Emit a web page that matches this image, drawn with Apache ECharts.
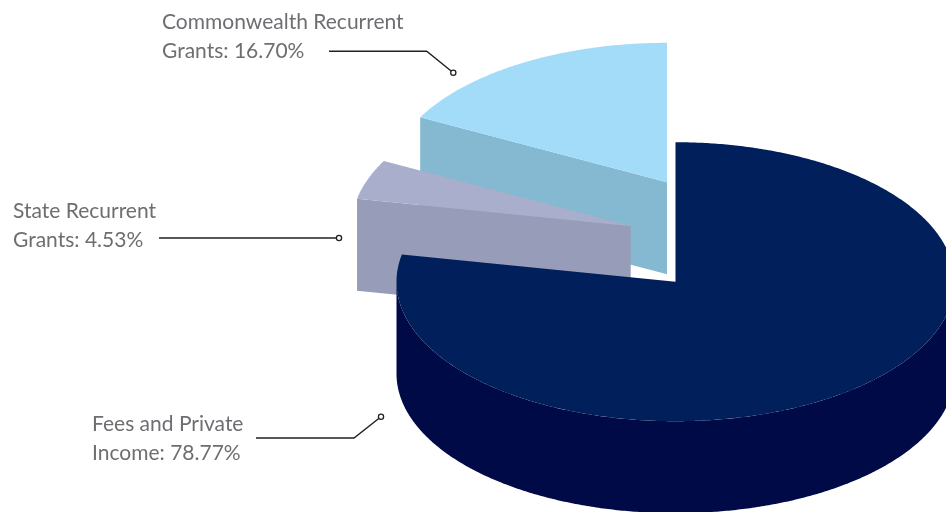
<!DOCTYPE html>
<html>
<head>
<meta charset="utf-8">
<style>
  html, body { margin: 0; background: #fff; }
  #chart { width: 946px; height: 512px; }
</style>
<script src="https://cdn.jsdelivr.net/npm/echarts@6/dist/echarts.min.js"></script>
</head>
<body>
<div id="chart"></div>
<script>
// slices go clockwise from 12 o'clock
const categories = ['Fees and Private Income', 'State Recurrent Grants', 'Commonwealth Recurrent Grants'];
const labelLines = [['Fees and Private', 'Income'], ['State Recurrent', 'Grants'], ['Commonwealth Recurrent', 'Grants']];
const shares = [78.77, 4.53, 16.70];

const topColors = ['#001f5b', '#a9aecd', '#a3dcf9'];
const wallColors = ['#000a47', '#979cb8', '#85b8d1'];

// exploded apex of each slice, in px
const apexes = [[675.5, 281.7], [630.7, 226], [667, 182.3]];
const RX = 279, RY = 139.5, DEPTH = 92;
const PERSPECTIVE = 2.4; // small angle skew of the original 3d projection
const sliceZ = [3, 2, 1]; // back slices first

const labelPos = [[92, 439], [13, 226], [162, 37]];
const leaders = [
  [[256, 438], [354, 438], [381, 416.7]],
  [[159, 238], [339, 238]],
  [[329, 51.3], [426.7, 51.3], [453.3, 72.7]]
];

const total = shares.reduce((a, b) => a + b, 0);
let acc = 0;
const spans = shares.map(v => {
  const s = [acc / total * 360, (acc + v) / total * 360];
  acc += v;
  return s;
});

const rad = d => d * Math.PI / 180;
const warp = d => d + PERSPECTIVE * Math.sin(rad(d));

function rim(apex, deg, dy) {
  return [apex[0] + RX * Math.sin(rad(deg)), apex[1] - RY * Math.cos(rad(deg)) + dy];
}

function arc(apex, from, to, dy) {
  const pts = [];
  const n = Math.max(2, Math.ceil(Math.abs(to - from) * 2));
  for (let i = 0; i <= n; i++) pts.push(rim(apex, from + (to - from) * i / n, dy));
  return pts;
}

function renderSlice(params, api) {
  const i = params.dataIndex;
  const apex = apexes[i];
  const a = warp(spans[i][0]), b = warp(spans[i][1]);
  const poly = (points, fill) => ({
    type: 'polygon', z2: sliceZ[i] * 10,
    shape: { points }, style: { fill }
  });
  const children = [];

  // cut faces, only the ones turned to the viewer
  [a, b].forEach((d, k) => {
    const facing = k === 0 ? Math.sin(rad(d)) < -1e-6 : Math.sin(rad(d)) > 1e-6;
    if (!facing) return;
    const r = rim(apex, d, 0);
    children.push(poly([apex, r, [r[0], r[1] + DEPTH], [apex[0], apex[1] + DEPTH]], wallColors[i]));
  });

  // outer wall, front half only
  const wa = Math.max(a, 90), wb = Math.min(b, 270);
  if (wb > wa) {
    children.push(poly(arc(apex, wa, wb, 0).concat(arc(apex, wb, wa, DEPTH)), wallColors[i]));
  }

  children.push(poly([apex].concat(arc(apex, a, b, 0)), topColors[i]));
  return { type: 'group', children };
}

const graphics = [];
labelLines.forEach((lines, i) => {
  graphics.push({
    type: 'text', x: labelPos[i][0], y: labelPos[i][1],
    style: {
      text: lines[0] + '\n' + lines[1] + ': ' + shares[i].toFixed(2) + '%',
      fill: '#6d6e71', font: '21px "Lato"', lineHeight: 29,
      verticalAlign: 'middle'
    }
  });
  const pts = leaders[i];
  const end = pts[pts.length - 1];
  graphics.push({
    type: 'polyline', shape: { points: pts },
    style: { stroke: '#231f20', lineWidth: 1.4, fill: null }
  });
  graphics.push({
    type: 'circle', shape: { cx: end[0], cy: end[1], r: 2.6 },
    style: { stroke: '#231f20', lineWidth: 1.3, fill: '#fff' }
  });
});

const chart = echarts.init(document.getElementById('chart'), null, { renderer: 'canvas' });
chart.setOption({
  animation: false,
  backgroundColor: '#ffffff',
  tooltip: { show: false },
  graphic: graphics,
  series: [{
    type: 'custom',
    coordinateSystem: 'none',
    clip: false,
    silent: true,
    renderItem: renderSlice,
    data: categories.map((name, i) => ({ name, value: shares[i] }))
  }]
});
</script>
</body>
</html>
